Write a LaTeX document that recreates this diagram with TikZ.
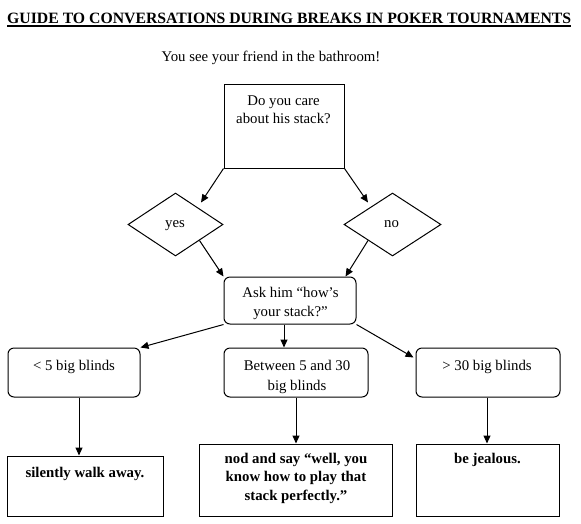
\documentclass[tikz,border=0pt]{standalone}
\usepackage{fontspec}
\setmainfont{Liberation Serif}
\usetikzlibrary{arrows.meta,shapes.geometric,calc}
\begin{document}
\begin{tikzpicture}[x=1pt,y=-1pt,
  sqbox/.style={draw=black,line width=1pt,rectangle,inner sep=0pt},
  rbox/.style={sqbox,rounded corners=6pt},
  dia/.style={draw=black,line width=1pt,diamond,inner sep=0pt},
  txt/.style={inner sep=0pt,font=\fontsize{14.8}{19}\selectfont,anchor=base},
  btxt/.style={inner sep=0pt,font=\fontsize{14.8}{18.5}\selectfont\bfseries,anchor=base},
  arr/.style={-{Triangle[length=8pt,width=7pt]},line width=1pt}]
\useasboundingbox (0,0) rectangle (581,523);
\fill[white] (0,0) rectangle (581,523);

% title and subtitle
\node[inner sep=0pt,font=\fontsize{15.75}{19}\selectfont\bfseries,anchor=base west] (title) at (7,23) {GUIDE TO CONVERSATIONS DURING BREAKS IN POKER TOURNAMENTS};
\draw[line width=1.6pt] ($(title.base west)+(0,3)$) -- ($(title.base east)+(0,3)$);
\node[txt] (sub) at (271,61) {You see your friend in the bathroom!};

% top question
\node[sqbox,minimum width=120pt,minimum height=84pt] (top) at (284,126) {};
\node[txt] (toptxt) at (283.5,105) {\begin{tabular}[t]{@{}c@{}}Do you care\\[-1pt]about his stack?\end{tabular}};

% diamonds
\node[dia,minimum width=95pt,minimum height=63pt] (yes) at (175.5,224.5) {};
\node[txt] (yestxt) at (175,227) {yes};
\node[dia,minimum width=97pt,minimum height=63pt] (no) at (392.5,224.5) {};
\node[txt] (notxt) at (391.5,227) {no};

% ask box
\node[rbox,minimum width=132pt,minimum height=47pt] (ask) at (290,300.5) {};
\node[txt] (asktxt) at (290.5,297) {\begin{tabular}[t]{@{}c@{}}Ask him “how’s\\[0.5pt]your stack?”\end{tabular}};

% level 3
\node[rbox,minimum width=132pt,minimum height=49pt] (lt5) at (74,372.5) {};
\node[txt] (lt5txt) at (74,370) {< 5 big blinds};
\node[rbox,minimum width=144pt,minimum height=49pt] (mid) at (296,372.5) {};
\node[txt] (midtxt) at (297,370) {\begin{tabular}[t]{@{}c@{}}Between 5 and 30\\[1pt]big blinds\end{tabular}};
\node[rbox,minimum width=144pt,minimum height=49pt] (gt30) at (488,372.5) {};
\node[txt] (gt30txt) at (487,370) {> 30 big blinds};

% level 4
\node[sqbox,minimum width=156pt,minimum height=60pt] (walk) at (85,486) {};
\node[btxt] (walktxt) at (85,477) {silently walk away.};
\node[sqbox,minimum width=193pt,minimum height=72pt] (nod) at (295.5,480) {};
\node[btxt] (nodtxt) at (296,463) {\begin{tabular}[t]{@{}c@{}}nod and say “well, you\\know how to play that\\stack perfectly.”\end{tabular}};
\node[sqbox,minimum width=143pt,minimum height=72pt] (jeal) at (487.5,480) {};
\node[btxt] (jealtxt) at (487.5,463) {be jealous.};

% connectors
\draw[arr] (top.south west) -- ($(yes.north east)+(1.5,-6)$);
\draw[arr] (top.south east) -- ($(no.north west)+(0,-6)$);
\draw[arr] (yes.south east) -- (ask.north west);
\draw[arr] (no.south west) -- ($(ask.north east)+(-11,0)$);
\draw[arr] (ask.south west) -- (lt5.north east);
\coordinate (am) at ($(ask.south)+(-6,0)$);
\draw[arr] (am) -- (am |- mid.north);
\draw[arr] (ask.south east) -- ($(gt30.north west)+(-2,10)$);
\coordinate (lw) at ($(lt5.south)+(5,0)$);
\draw[arr] (lw) -- (lw |- walk.north);
\draw[arr] (mid.south) -- (mid.south |- nod.north);
\coordinate (rj) at ($(gt30.south)+(-1,0)$);
\draw[arr] (rj) -- (rj |- jeal.north);
\end{tikzpicture}
\end{document}
